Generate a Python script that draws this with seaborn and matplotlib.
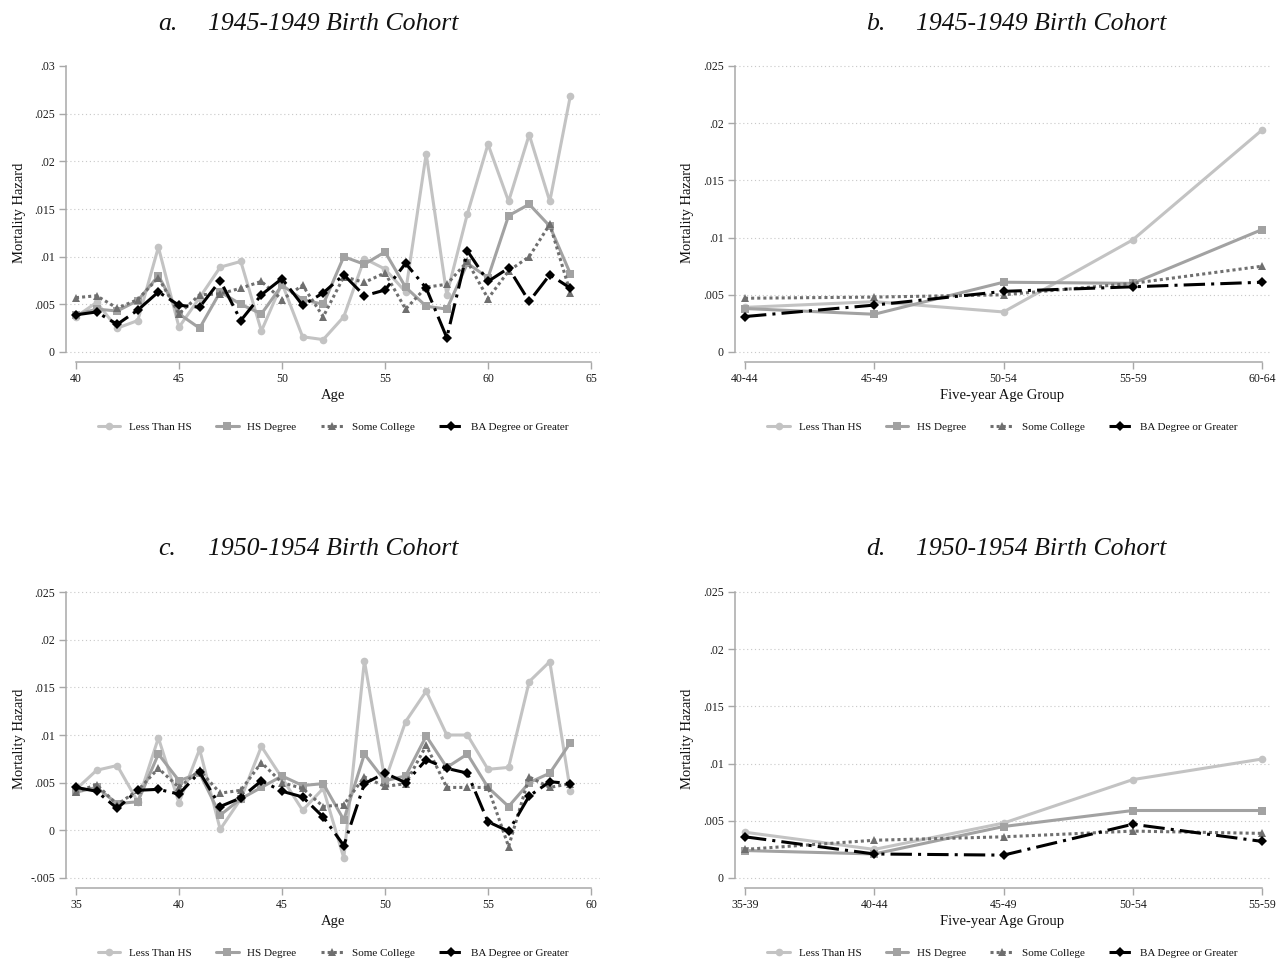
import numpy as np
import pandas as pd
import matplotlib
matplotlib.use("Agg")
import matplotlib.pyplot as plt
import seaborn as sns
from matplotlib.lines import Line2D

sns.set_theme(style="white")
plt.rcParams["font.family"] = ["Liberation Serif", "DejaVu Serif"]

# ---------------------------------------------------------------- data
education = ["Less Than HS", "HS Degree", "Some College", "BA Degree or Greater"]

# Panel a: 1945-1949 birth cohort, single-year ages
ages_a = list(range(40, 65))
a_less_hs = [0.0037, 0.0052, 0.0025, 0.0033, 0.0110, 0.0026, 0.0057, 0.0089, 0.0095, 0.0022,
             0.0072, 0.0016, 0.0013, 0.0037, 0.0098, 0.0087, 0.0063, 0.0208, 0.0060, 0.0145,
             0.0218, 0.0158, 0.0228, 0.0158, 0.0269]
a_hs = [0.0039, 0.0045, 0.0043, 0.0054, 0.0080, 0.0040, 0.0025, 0.0063, 0.0050, 0.0040,
        0.0070, 0.0055, 0.0050, 0.0100, 0.0092, 0.0105, 0.0068, 0.0048, 0.0045, 0.0093,
        0.0078, 0.0143, 0.0155, 0.0132, 0.0082]
a_some_col = [0.0057, 0.0059, 0.0046, 0.0055, 0.0078, 0.0040, 0.0060, 0.0061, 0.0067, 0.0074,
              0.0055, 0.0070, 0.0037, 0.0079, 0.0073, 0.0083, 0.0045, 0.0068, 0.0071, 0.0095,
              0.0056, 0.0085, 0.0100, 0.0134, 0.0062]
a_ba = [0.0039, 0.0042, 0.0029, 0.0044, 0.0063, 0.0049, 0.0047, 0.0075, 0.0033, 0.0060,
        0.0077, 0.0049, 0.0062, 0.0081, 0.0059, 0.0065, 0.0093, 0.0067, 0.0015, 0.0106,
        0.0074, 0.0088, 0.0053, 0.0081, 0.0067]

# Panel b: 1945-1949 birth cohort, five-year age groups
groups_b = ["40-44", "45-49", "50-54", "55-59", "60-64"]
b_less_hs = [0.0039, 0.0044, 0.0035, 0.0098, 0.0194]
b_hs = [0.0038, 0.0033, 0.0061, 0.0060, 0.0107]
b_some_col = [0.0047, 0.0048, 0.0050, 0.0060, 0.0075]
b_ba = [0.0031, 0.0041, 0.0053, 0.0057, 0.0061]

# Panel c: 1950-1954 birth cohort, single-year ages
ages_c = list(range(35, 60))
c_less_hs = [0.0043, 0.0063, 0.0068, 0.0030, 0.0097, 0.0029, 0.0085, 0.0001, 0.0033, 0.0088,
             0.0055, 0.0021, 0.0044, -0.0029, 0.0178, 0.0052, 0.0114, 0.0146, 0.0100, 0.0100,
             0.0064, 0.0066, 0.0156, 0.0177, 0.0041]
c_hs = [0.0040, 0.0045, 0.0028, 0.0030, 0.0080, 0.0052, 0.0060, 0.0016, 0.0033, 0.0045,
        0.0057, 0.0047, 0.0049, 0.0011, 0.0080, 0.0052, 0.0057, 0.0099, 0.0066, 0.0080,
        0.0045, 0.0025, 0.0050, 0.0060, 0.0092]
c_some_col = [0.0040, 0.0048, 0.0027, 0.0042, 0.0065, 0.0045, 0.0063, 0.0039, 0.0042, 0.0071,
              0.0050, 0.0044, 0.0025, 0.0027, 0.0056, 0.0046, 0.0049, 0.0089, 0.0045, 0.0045,
              0.0045, -0.0017, 0.0056, 0.0045, 0.0049]
c_ba = [0.0045, 0.0041, 0.0023, 0.0042, 0.0043, 0.0038, 0.0061, 0.0025, 0.0034, 0.0052,
        0.0041, 0.0035, 0.0014, -0.0016, 0.0049, 0.0060, 0.0050, 0.0074, 0.0065, 0.0060,
        0.0009, -0.0001, 0.0036, 0.0051, 0.0049]

# Panel d: 1950-1954 birth cohort, five-year age groups
groups_d = ["35-39", "40-44", "45-49", "50-54", "55-59"]
d_less_hs = [0.0040, 0.0025, 0.0048, 0.0086, 0.0104]
d_hs = [0.0024, 0.0021, 0.0045, 0.0059, 0.0059]
d_some_col = [0.0025, 0.0033, 0.0036, 0.0041, 0.0039]
d_ba = [0.0036, 0.0021, 0.0020, 0.0047, 0.0032]

# ---------------------------------------------------------------- styles
series_style = {
    "Less Than HS": dict(color="#c3c3c3", marker="o", ls="-"),
    "HS Degree": dict(color="#a2a2a2", marker="s", ls="-"),
    "Some College": dict(color="#6f6f6f", marker="^", ls=(0, (1, 1))),
    "BA Degree or Greater": dict(color="#000000", marker="D", ls=(0, (7, 2, 1, 2))),
}
LW = 2.2
MS = 5.5
AXIS_GREY = "#a8a8a8"

W, H = 1278, 961
fig = plt.figure(figsize=(W / 100, H / 100), dpi=100)
fig.patch.set_facecolor("white")


def px_axes(left, right, top, bottom):
    return fig.add_axes([left / W, 1 - bottom / H, (right - left) / W, (bottom - top) / H])


def ylims(v_hi, px_hi, v_lo, px_lo, ax_top_px, ax_bottom_px):
    # data limits of an axes box, given two tick values and their pixel rows
    per_px = (v_hi - v_lo) / (px_lo - px_hi)
    upper = v_hi + (px_hi - ax_top_px) * per_px
    lower = v_lo - (ax_bottom_px - px_lo) * per_px
    return lower, upper


def draw_panel(ax, x, values, xlim, ylim, yticks, ytick_labels, xticks, xtick_labels,
               xlabel, ybounds, xbounds, hide_top_grid=False):
    for name, vals in zip(education, values):
        st = series_style[name]
        sns.lineplot(x=x, y=vals, ax=ax, sort=False, color=st["color"], marker=st["marker"],
                     markersize=MS, markeredgewidth=0, linewidth=LW, linestyle=st["ls"],
                     label=name, legend=False)
    ax.set_xlim(*xlim)
    ax.set_ylim(*ylim)
    ax.set_yticks(yticks)
    ax.set_yticklabels(ytick_labels)
    if xticks is not None:
        ax.set_xticks(xticks)
        ax.set_xticklabels(xtick_labels)
    ax.tick_params(axis="both", which="major", labelsize=8.5, length=5, width=1,
                   color=AXIS_GREY, pad=3, direction="out", labelcolor="#1a1a1a")
    ax.tick_params(axis="both", left=True, bottom=True)
    for s in ["top", "right"]:
        ax.spines[s].set_visible(False)
    for s in ["left", "bottom"]:
        ax.spines[s].set_color(AXIS_GREY)
        ax.spines[s].set_linewidth(1.1)
    ax.spines["left"].set_bounds(*ybounds)
    ax.spines["bottom"].set_bounds(*xbounds)
    ax.yaxis.grid(True, linestyle=(0, (1, 2.5)), color="#c8c8c8", linewidth=0.8)
    ax.xaxis.grid(False)
    if hide_top_grid:
        ax.get_ygridlines()[-1].set_visible(False)
    ax.set_facecolor("white")
    ax.set_ylabel("Mortality Hazard", fontsize=10.5, va="center", color="#111111")
    ax.yaxis.set_label_coords(-0.088, 0.5)
    ax.set_xlabel(xlabel, fontsize=10.5, va="center", color="#111111")
    ax.xaxis.set_label_coords(0.5, -0.112)

    handles = []
    for name in education:
        st = series_style[name]
        handles.append(Line2D([0], [0], color=st["color"], marker=st["marker"], markersize=MS,
                              markeredgewidth=0, linewidth=LW, linestyle=st["ls"]))
    ax.legend(handles, education, loc="center", bbox_to_anchor=(0.5, -0.218), ncol=4,
              frameon=False, fontsize=8, handlelength=2.0, handletextpad=0.8,
              columnspacing=2.2, labelcolor="#111111")


# ---- panel a
ax_a = px_axes(66, 600, 64, 362)
draw_panel(ax_a, ages_a, [a_less_hs, a_hs, a_some_col, a_ba],
           xlim=(40 - 10 / 20.6, 65 + 9 / 20.6), ylim=ylims(0.03, 66, 0.0, 352, 64, 362),
           yticks=[0, 0.005, 0.01, 0.015, 0.02, 0.025, 0.03],
           ytick_labels=["0", ".005", ".01", ".015", ".02", ".025", ".03"],
           xticks=[40, 45, 50, 55, 60, 65], xtick_labels=["40", "45", "50", "55", "60", "65"],
           xlabel="Age", ybounds=(0, 0.03), xbounds=(40, 65), hide_top_grid=True)

# ---- panel b
ax_b = px_axes(735, 1270, 64, 362)
draw_panel(ax_b, groups_b, [b_less_hs, b_hs, b_some_col, b_ba],
           xlim=(-10 / 129.25, 4 + 8 / 129.25), ylim=ylims(0.025, 66, 0.0, 352, 64, 362),
           yticks=[0, 0.005, 0.01, 0.015, 0.02, 0.025],
           ytick_labels=["0", ".005", ".01", ".015", ".02", ".025"],
           xticks=None, xtick_labels=None,
           xlabel="Five-year Age Group", ybounds=(0, 0.025), xbounds=(0, 4))

# ---- panel c
ax_c = px_axes(66, 600, 590, 888)
draw_panel(ax_c, ages_c, [c_less_hs, c_hs, c_some_col, c_ba],
           xlim=(35 - 10 / 20.6, 60 + 9 / 20.6), ylim=ylims(0.025, 592, -0.005, 878, 590, 888),
           yticks=[-0.005, 0, 0.005, 0.01, 0.015, 0.02, 0.025],
           ytick_labels=["-.005", "0", ".005", ".01", ".015", ".02", ".025"],
           xticks=[35, 40, 45, 50, 55, 60], xtick_labels=["35", "40", "45", "50", "55", "60"],
           xlabel="Age", ybounds=(-0.005, 0.025), xbounds=(35, 60))

# ---- panel d
ax_d = px_axes(735, 1270, 590, 888)
draw_panel(ax_d, groups_d, [d_less_hs, d_hs, d_some_col, d_ba],
           xlim=(-10 / 129.25, 4 + 8 / 129.25), ylim=ylims(0.025, 592, 0.0, 878, 590, 888),
           yticks=[0, 0.005, 0.01, 0.015, 0.02, 0.025],
           ytick_labels=["0", ".005", ".01", ".015", ".02", ".025"],
           xticks=None, xtick_labels=None,
           xlabel="Five-year Age Group", ybounds=(0, 0.025), xbounds=(0, 4))

# ---- panel titles
title_kw = dict(fontsize=18.5, style="italic", va="center", color="#111111")
for letter, lx, tx, ty in [("a.", 158, 208, 24), ("b.", 866, 916, 24),
                           ("c.", 158, 208, 549), ("d.", 866, 916, 549)]:
    fig.text(lx / W, 1 - ty / H, letter, ha="left", **title_kw)
    cohort = "1945-1949 Birth Cohort" if letter in ("a.", "b.") else "1950-1954 Birth Cohort"
    fig.text(tx / W, 1 - ty / H, cohort, ha="left", **title_kw)

fig.savefig("out.png", dpi=100, facecolor="white")
